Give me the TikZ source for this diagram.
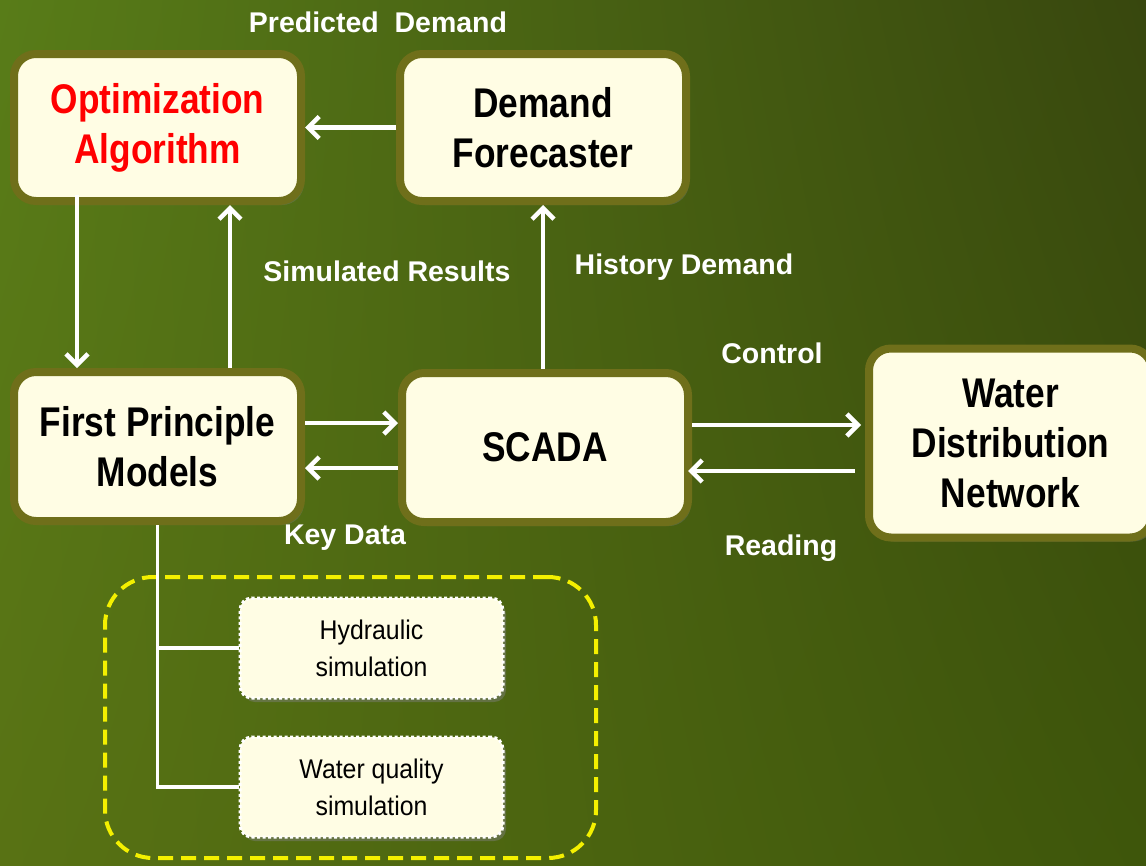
\documentclass[tikz,border=0pt]{standalone}
\usepackage{fontspec}
\setmainfont{Liberation Sans}
\newfontfamily\narrowfont{Liberation Sans}[FakeStretch=0.85]
\newfontfamily\subfont{Liberation Sans}[FakeStretch=0.92]
\usetikzlibrary{arrows.meta,calc,shadows,shadings}
\definecolor{boxborder}{HTML}{6F6F1A}
\definecolor{boxfill}{HTML}{FFFDE4}
\definecolor{grpyellow}{HTML}{F4F000}
\definecolor{bgUL}{HTML}{587C18}
\definecolor{bgUR}{HTML}{38470E}
\definecolor{bgLL}{HTML}{587214}
\definecolor{bgLR}{HTML}{3E560B}
\tikzset{
  box/.style={draw=boxborder, line width=8pt, fill=boxfill, rounded corners=22pt,
    align=center, inner sep=0pt, text=black,
    font=\narrowfont\bfseries\fontsize{41.5}{50}\selectfont,
    drop shadow={shadow xshift=3pt, shadow yshift=-4pt, opacity=0.35}},
  subbox/.style={draw=white, line width=3pt, dash pattern=on 3pt off 2.5pt,
    fill=boxfill, rounded corners=12pt, align=center, inner sep=0pt,
    minimum width=263pt, minimum height=100pt, text=black,
    font=\subfont\fontsize{27}{37}\selectfont,
    drop shadow={shadow xshift=3pt, shadow yshift=-4pt, opacity=0.45}},
  grpbox/.style={draw=grpyellow, line width=4pt, dash pattern=on 15pt off 8pt,
    rounded corners=48pt, inner sep=0pt, minimum width=491pt, minimum height=281pt},
  lbl/.style={text=white, font=\bfseries\fontsize{28.5}{34}\selectfont, inner sep=0pt},
  arr/.style={draw=white, line width=4.5pt,
    -{Straight Barb[length=11pt,width=22pt]}},
  tree/.style={draw=white, line width=3.5pt},
}
\begin{document}
\begin{tikzpicture}[x=1pt,y=-1pt]
\useasboundingbox (0,0) rectangle (1146,865);
\shade[upper left=bgUL, upper right=bgUR, lower left=bgLL, lower right=bgLR]
  (0,0) rectangle (1146,865);

% main boxes
\node[box, minimum width=287pt, minimum height=147pt, text=red] (opt) at (157.5,127.5) {Optimization\\Algorithm};
\node[box, minimum width=286pt, minimum height=147pt] (df) at (543,127.5) {Demand\\Forecaster};
\node[box, minimum width=287pt, minimum height=149pt] (fpm) at (157.5,446.5) {First Principle\\Models};
\node[box, minimum width=286pt, minimum height=149pt] (scada) at (545,447.5) {SCADA};
\node[box, minimum width=283pt, minimum height=189pt] (wdn) at (1010.5,443) {Water\\Distribution\\Network};

% group
\node[grpbox] (grp) at (350.5,717.5) {};
\node[subbox] (hyd) at (371.5,648) {Hydraulic\\simulation};
\node[subbox] (wq) at (371.5,787) {Water quality\\simulation};

% tree
\draw[tree] (fpm.south) -- (fpm.south |- wq.west) -- (wq.west);
\draw[tree] (fpm.south |- hyd.west) -- (hyd.west);

% arrows
\draw[arr] (df.west) -- (opt.east);
\draw[arr] ($(opt.south)+(-80.5,-10)$) -- ($(fpm.north)+(-80.5,0)$);
\draw[arr] ($(fpm.north)+(72.5,0)$) -- ($(opt.south)+(72.5,0)$);
\draw[arr] ($(scada.north)+(-2,0)$) -- (df.south);
\draw[arr] ($(fpm.east)+(0,-23.5)$) -- ($(scada.west)+(0,-24.5)$);
\draw[arr] ($(scada.west)+(0,20.5)$) -- ($(fpm.east)+(0,21.5)$);
\coordinate (c1) at ($(scada.east)+(0,-22.5)$);
\coordinate (c2) at ($(scada.east)+(0,23.5)$);
\draw[arr, shorten >=4pt] (c1) -- (c1 -| wdn.west);
\draw[arr] ($(c2 -| wdn.west)+(-10,0)$) -- ($(c2)+(-4,0)$);

% labels
\node[lbl] (lpd) at (378,22) {Predicted~~Demand};
\node[lbl] (lsr) at (387,271) {Simulated Results};
\node[lbl] (lhd) at (684,267) {History Demand};
\node[lbl] (lct) at (772,353) {Control};
\node[lbl] (lkd) at (345,538) {Key Data};
\node[lbl] (lrd) at (781,548) {Reading};
\end{tikzpicture}
\end{document}
